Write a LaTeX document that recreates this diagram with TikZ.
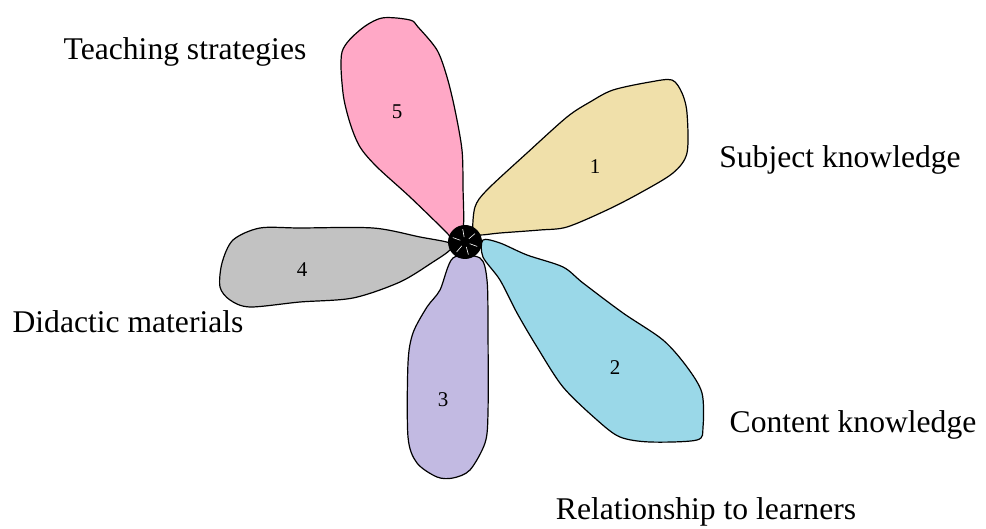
\documentclass[tikz,border=0pt]{standalone}
\usepackage{fontspec}
\setmainfont{Liberation Serif}
\usepackage{xcolor}
\usepackage{tikz}
\definecolor{petalpink}{HTML}{FFA8C6}
\definecolor{petaltan}{HTML}{F0E0AA}
\definecolor{petalblue}{HTML}{9AD8E8}
\definecolor{petalpurple}{HTML}{C2BAE2}
\definecolor{petalgray}{HTML}{C2C2C2}

\begin{document}
\begin{tikzpicture}[
  x=0.5pt, y=-0.5pt,
  petal/.style={draw=black, line width=0.6pt},
  num/.style={font=\fontsize{10.5}{12}\selectfont},
  lbl/.style={font=\fontsize{15.8}{19}\selectfont}
]
  \useasboundingbox (0,0) rectangle (986,529);

  % petals
  \draw[petal, fill=petalpink] plot[smooth cycle, tension=0.5] coordinates {
    (342,52) (360,30) (382,18) (410,20) (418,27) (437,50) (447,77) (455,110)
    (462,150) (463,187) (463,230) (452,240) (447,233) (410,197) (377,167)
    (360,147) (350,123) (343,93)};
  \draw[petal, fill=petaltan] plot[smooth cycle, tension=0.5] coordinates {
    (473,232) (475,207) (487,190) (527,153) (567,117) (590,102) (613,90)
    (650,82) (672,80) (682,93) (687,113) (687,153) (673,173) (640,193)
    (607,210) (567,227) (540,230) (500,233) (480,235)};
  \draw[petal, fill=petalgray] plot[smooth cycle, tension=0.5] coordinates {
    (450,243) (420,237) (373,228) (300,228) (260,228) (233,240) (222,263)
    (220,287) (230,300) (250,307) (300,302) (353,298) (400,282) (433,262)
    (450,250)};
  \draw[petal, fill=petalpurple] plot[smooth cycle, tension=0.5] coordinates {
    (453,258) (480,258) (487,280) (488,330) (488,413) (485,443) (470,470)
    (453,478) (437,477) (417,463) (408,437) (408,363) (413,333) (427,307)
    (440,290)};
  \draw[petal, fill=petalblue] plot[smooth cycle, tension=0.5] coordinates {
    (483,240) (500,243) (527,255) (563,267) (583,283) (623,313) (663,340)
    (687,367) (702,393) (703,427) (697,440) (650,442) (620,437) (597,420)
    (563,387) (537,347) (517,313) (500,280) (483,257)};

  % centre
  \fill[black] (465,242) circle[radius=17];
  \foreach \a in {20,75,130,200,260,320}
    \draw[white, line width=0.3pt] (465,242) ++(\a:5) -- ++(\a:8);

  % numbers
  \node[num] (n1) at (595,167) {1};
  \node[num] (n2) at (615,368) {2};
  \node[num] (n3) at (443,400) {3};
  \node[num] (n4) at (302,270) {4};
  \node[num] (n5) at (397,112) {5};

  % labels
  \node[lbl] (subject) at (840,160) {Subject knowledge};
  \node[lbl] (content) at (853,425) {Content knowledge};
  \node[lbl] (relation) at (706,512) {Relationship to learners};
  \node[lbl] (didactic) at (128,322) {Didactic materials};
  \node[lbl] (teaching) at (185,52) {Teaching strategies};
\end{tikzpicture}
\end{document}
